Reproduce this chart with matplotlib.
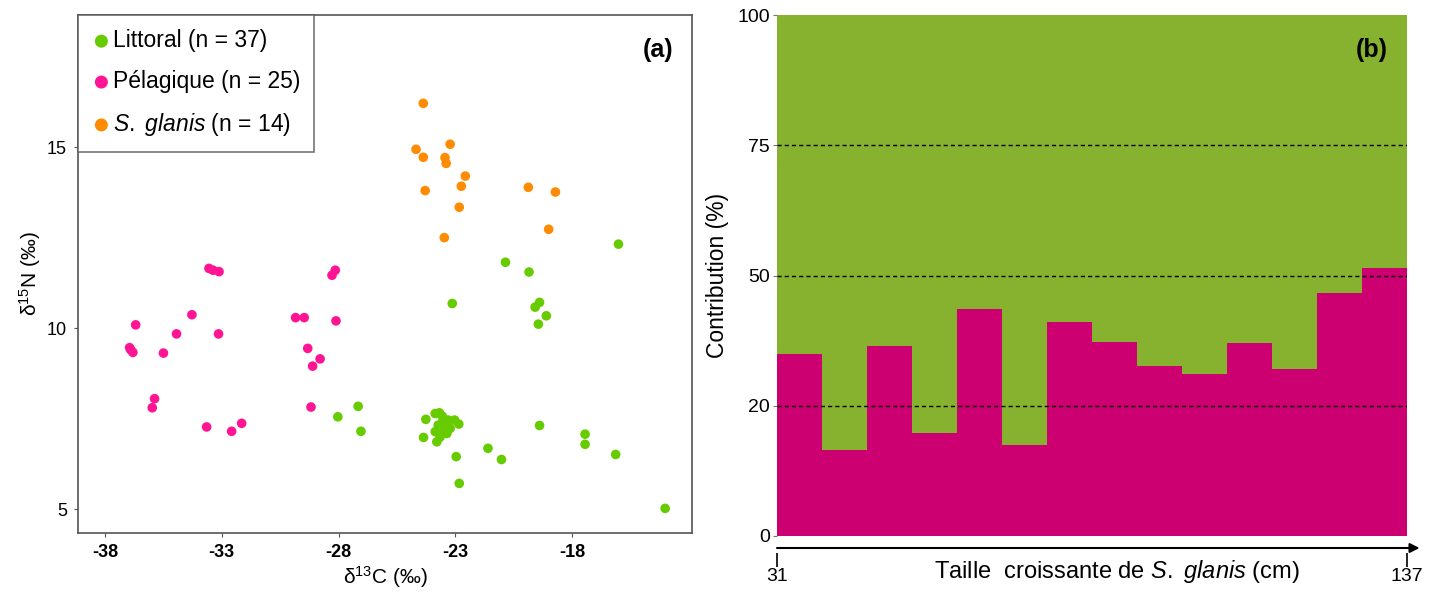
import matplotlib
matplotlib.use("Agg")
import matplotlib.pyplot as plt
import numpy as np

plt.rcParams['font.family'] = ['Liberation Sans', 'DejaVu Sans']
plt.rcParams['mathtext.fontset'] = 'custom'
plt.rcParams['mathtext.rm'] = 'Liberation Sans'
plt.rcParams['mathtext.it'] = 'Liberation Sans:italic'
plt.rcParams['mathtext.bf'] = 'Liberation Sans:bold'

# ---------------- Panel (a) data ----------------
littoral_d13c = [-16.01, -20.85, -19.84, -23.13, -19.58, -19.39, -19.10, -19.44,
                 -27.16, -28.03, -27.04, -19.39, -22.96, -21.60, -21.02, -22.83,
                 -17.44, -17.44, -16.13, -14.01,
                 -24.26, -23.86, -23.68, -23.56, -23.53, -23.43, -23.03, -22.85,
                 -23.22, -23.36, -23.58, -23.86, -24.36, -23.79, -23.65, -23.73, -23.30]
littoral_d15n = [12.32, 11.82, 11.55, 10.68, 10.58, 10.71, 10.34, 10.11,
                 7.84, 7.55, 7.15, 7.31, 6.45, 6.68, 6.37, 5.71,
                 7.07, 6.79, 6.51, 5.02,
                 7.48, 7.64, 7.66, 7.57, 7.43, 7.35, 7.46, 7.35,
                 7.23, 7.09, 7.18, 7.14, 6.98, 6.86, 6.99, 7.32, 7.46]

pelagic_d13c = [-36.69, -36.95, -36.90, -36.81, -34.28, -34.94, -35.50, -35.88,
                -35.98, -33.65, -32.58, -32.15, -33.14, -29.84, -29.47, -28.11,
                -29.32, -28.79, -29.11, -29.18, -33.55, -33.38, -33.12, -28.28, -28.14]
pelagic_d15n = [10.09, 9.46, 9.40, 9.33, 10.37, 9.84, 9.31, 8.05,
                7.80, 7.27, 7.15, 7.37, 9.84, 10.29, 10.29, 10.20,
                9.44, 9.15, 8.95, 7.82, 11.65, 11.60, 11.56, 11.46, 11.60]

glanis_d13c = [-24.37, -24.68, -23.22, -24.37, -23.44, -23.39, -22.57, -22.74,
               -24.29, -22.83, -23.47, -19.87, -18.71, -19.00]
glanis_d15n = [16.21, 14.94, 15.08, 14.72, 14.71, 14.55, 14.20, 13.92,
               13.80, 13.34, 12.50, 13.89, 13.76, 12.73]

x_ticks_a = [-38, -33, -28, -23, -18]
y_ticks_a = [5, 10, 15]

# ---------------- Panel (b) data ----------------
pelagic_contrib = [34.9, 16.5, 36.5, 19.7, 43.5, 17.5, 41.1, 37.2, 32.6, 31.0, 37.0, 32.0, 46.7, 51.5]
littoral_contrib = [100 - v for v in pelagic_contrib]
size_labels = ['31', '137']
y_tick_pos_b = [0, 25, 50, 75, 100]
y_tick_labels_b = ['0', '20', '50', '75', '100']

# ---------------- Figure ----------------
fig = plt.figure(figsize=(14.4, 5.95), dpi=100)

ax1 = fig.add_axes([78/1440, 1-533/595, (692-78)/1440, (533-15)/595])
ax1.scatter(littoral_d13c, littoral_d15n, s=48, color='#66CC00', edgecolors='none',
            label='Littoral (n = 37)', zorder=3)
ax1.scatter(pelagic_d13c, pelagic_d15n, s=48, color='#FF1493', edgecolors='none',
            label='Pélagique (n = 25)', zorder=3)
ax1.scatter(glanis_d13c, glanis_d15n, s=48, color='#FF8C00', edgecolors='none',
            label='$\\it{S.\\ glanis}$ (n = 14)', zorder=3)
ax1.set_xlim(-39.16, -12.86)
ax1.set_ylim(4.34, 18.65)
ax1.set_xticks(x_ticks_a)
ax1.set_xticklabels([str(v) for v in x_ticks_a], fontweight='bold', fontsize=13)
ax1.set_yticks(y_ticks_a)
ax1.set_yticklabels([str(v) for v in y_ticks_a], fontsize=13)
ax1.tick_params(axis='both', length=3, width=0.8, color='#555555', pad=5)
for sp in ax1.spines.values():
    sp.set_color('#555555')
    sp.set_linewidth(1.2)
ax1.set_xlabel('δ$^{13}$C (‰)', fontsize=15, labelpad=2)
ax1.set_ylabel('δ$^{15}$N (‰)', fontsize=15, labelpad=3)
leg = ax1.legend(loc='upper left', bbox_to_anchor=(0, 1), borderaxespad=0,
                 fontsize=16.5, frameon=True, fancybox=False, handletextpad=0.1,
                 handlelength=0.8, labelspacing=0.78, borderpad=0.62, markerscale=1.35)
leg.get_frame().set_edgecolor('#555555')
leg.get_frame().set_linewidth(1.2)
ax1.text(0.97, 0.955, '(a)', transform=ax1.transAxes, ha='right', va='top',
         fontsize=18, fontweight='bold')

# ---------------- Panel (b) ----------------
ax2 = fig.add_axes([777/1440, 1-536/595, (1407-777)/1440, (536-15)/595])
idx = np.arange(len(pelagic_contrib))
ax2.bar(idx, pelagic_contrib, width=1.0, align='edge', color='#CC0070', linewidth=0)
ax2.bar(idx, littoral_contrib, bottom=pelagic_contrib, width=1.0, align='edge',
        color='#86B22F', linewidth=0)
for yv in y_tick_pos_b[1:-1]:
    ax2.axhline(yv, color='black', linestyle=(0, (3, 2.2)), linewidth=1.0, zorder=5)
ax2.set_xlim(0, len(pelagic_contrib))
ax2.set_ylim(0, 100)
ax2.set_yticks(y_tick_pos_b)
ax2.set_yticklabels(y_tick_labels_b, fontsize=14)
ax2.tick_params(axis='y', length=3, width=0.8, color='#777777', pad=2)
for sp in ['left', 'right', 'top', 'bottom']:
    ax2.spines[sp].set_visible(False)
ax2.spines['bottom'].set_position(('outward', 12))
ax2.set_xticks([0, len(pelagic_contrib)])
ax2.set_xticklabels(size_labels, fontsize=14)
ax2.tick_params(axis='x', length=10, width=1.2, color='black', pad=1)
ax2.annotate('', xy=(1.02, -12/521), xytext=(0, -12/521),
             xycoords='axes fraction', textcoords='axes fraction',
             arrowprops=dict(arrowstyle='-|>', color='black', lw=1.5,
                             mutation_scale=14, shrinkA=0, shrinkB=0),
             annotation_clip=False)
ax2.set_ylabel('Contribution (%)', fontsize=16.5, labelpad=6)
ax2.text(0.54, -0.042, 'Taille  croissante de $\\it{S.\\ glanis}$ (cm)', transform=ax2.transAxes,
         ha='center', va='top', fontsize=17)
ax2.text(0.97, 0.955, '(b)', transform=ax2.transAxes, ha='right', va='top',
         fontsize=18, fontweight='bold')

fig.savefig('out.png', dpi=100)
